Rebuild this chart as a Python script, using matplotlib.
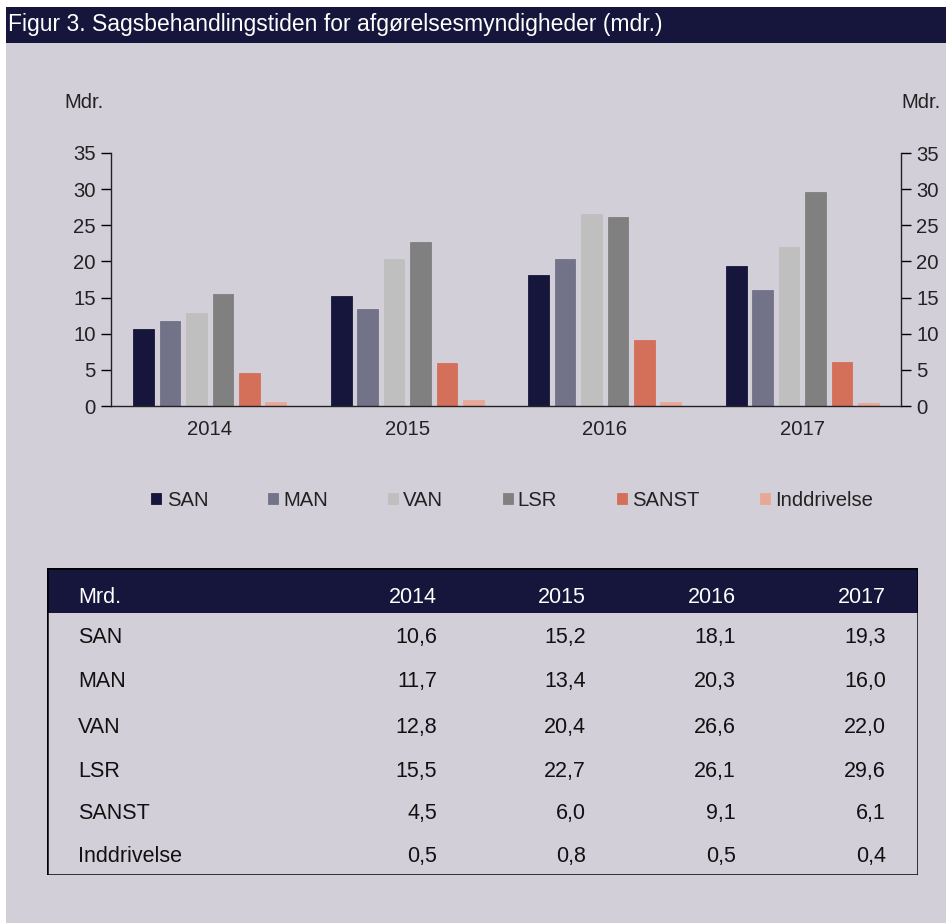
import matplotlib
matplotlib.use("Agg")
import matplotlib.pyplot as plt
from matplotlib.patches import Rectangle
import numpy as np

plt.rcParams['font.family'] = ['Liberation Sans', 'DejaVu Sans']

years = ["2014", "2015", "2016", "2017"]
series = ["SAN", "MAN", "VAN", "LSR", "SANST", "Inddrivelse"]
SAN = [10.6, 15.2, 18.1, 19.3]
MAN = [11.7, 13.4, 20.3, 16.0]
VAN = [12.8, 20.4, 26.6, 22.0]
LSR = [15.5, 22.7, 26.1, 29.6]
SANST = [4.5, 6.0, 9.1, 6.1]
Inddrivelse = [0.5, 0.8, 0.5, 0.4]
values = [SAN, MAN, VAN, LSR, SANST, Inddrivelse]
colors = ["#16163D", "#727289", "#BFBFBF", "#808080", "#D4705A", "#E8A898"]
yticks = [0, 5, 10, 15, 20, 25, 30, 35]
title = "Figur 3. Sagsbehandlingstiden for afgørelsesmyndigheder (mdr.)"
table_header = "Mrd."

W, H = 946, 923
BG = "#D2CFD9"
NAVY = "#16163D"
FS = 14.6
fig = plt.figure(figsize=(W / 100, H / 100), dpi=100)
fig.patch.set_facecolor("white")

def fx(x):
    return x / W

def fy(y):
    return 1 - y / H

# background panel
fig.patches.append(Rectangle((fx(6), 0), 1 - fx(6), fy(43), transform=fig.transFigure,
                             facecolor=BG, edgecolor="none", zorder=-2))
# title bar
fig.patches.append(Rectangle((fx(6), fy(43)), 1 - fx(6), fy(7) - fy(43), transform=fig.transFigure,
                             facecolor=NAVY, edgecolor="none", zorder=-2))
fig.text(fx(8.5), fy(25), title, color="white", fontsize=16.5, va="center", ha="left")

# chart axes
ax = fig.add_axes([fx(111), fy(406), fx(901) - fx(111), fy(153) - fy(406)])
ax.set_facecolor("none")
x = np.arange(len(years))
step = 0.1337
width = 0.104
handles = []
for i, (name, vals, c) in enumerate(zip(series, values, colors)):
    b = ax.bar(x + (i - 2.5) * step, vals, width=width, color=c, label=name,
               edgecolor=c, linewidth=0.6)
    handles.append(b)
ax.set_xlim(-0.5, 3.5)
ax.set_ylim(0, 35)
ax.set_yticks(yticks)
ax.set_xticks(x)
ax.set_xticklabels(years, fontsize=FS, color="#222222")
ax.tick_params(axis="x", length=0, pad=10)
ax.tick_params(axis="y", direction="out", length=7, width=1, labelsize=FS,
               labelcolor="#222222", pad=4)
for s in ["top", "right"]:
    ax.spines[s].set_visible(False)
for s in ["left", "bottom"]:
    ax.spines[s].set_color("#222222")
    ax.spines[s].set_linewidth(1)

ax2 = ax.twinx()
ax2.set_ylim(0, 35)
ax2.set_yticks(yticks)
ax2.tick_params(axis="y", direction="out", length=7, width=1, labelsize=FS,
                labelcolor="#222222", pad=4)
for s in ["top", "left", "bottom"]:
    ax2.spines[s].set_visible(False)
ax2.spines["right"].set_color("#222222")
ax2.spines["right"].set_linewidth(1)

fig.text(fx(64), fy(103), "Mdr.", fontsize=FS, color="#222222", va="center", ha="left")
fig.text(fx(941), fy(103), "Mdr.", fontsize=FS, color="#222222", va="center", ha="right")

leg = fig.legend(handles=handles, labels=series, loc="center", bbox_to_anchor=(fx(512), fy(500)),
                 ncol=6, frameon=False, fontsize=FS, handlelength=0.5, handleheight=0.5,
                 handletextpad=0.25, columnspacing=2.95, borderaxespad=0)
for t in leg.get_texts():
    t.set_color("#222222")

# table
tax = fig.add_axes([fx(47), fy(875), fx(918) - fx(47), fy(568) - fy(875)])
tax.set_xlim(47, 918)
tax.set_ylim(875, 568)
tax.axis("off")
tax.add_patch(Rectangle((47, 568), 918 - 47, 613 - 568, facecolor=NAVY, edgecolor="none"))
tax.add_patch(Rectangle((47, 568), 918 - 47, 875 - 568, facecolor="none", edgecolor="black",
                        linewidth=1.8, zorder=5))
col_x = [437, 586, 736, 886]
tfs = 15.5
tax.text(78, 597, table_header, color="white", fontsize=tfs, va="center", ha="left")
for xc, yr in zip(col_x, years):
    tax.text(xc, 597, yr, color="white", fontsize=tfs, va="center", ha="right")
row_y = [637, 681, 727, 771, 813, 856]
for ry, name, vals in zip(row_y, series, values):
    tax.text(78, ry, name, color="#111111", fontsize=tfs, va="center", ha="left")
    for xc, v in zip(col_x, vals):
        tax.text(xc, ry, f"{v:.1f}".replace(".", ","), color="#111111", fontsize=tfs,
                 va="center", ha="right")

fig.savefig("out.png", dpi=100, facecolor=fig.get_facecolor())
